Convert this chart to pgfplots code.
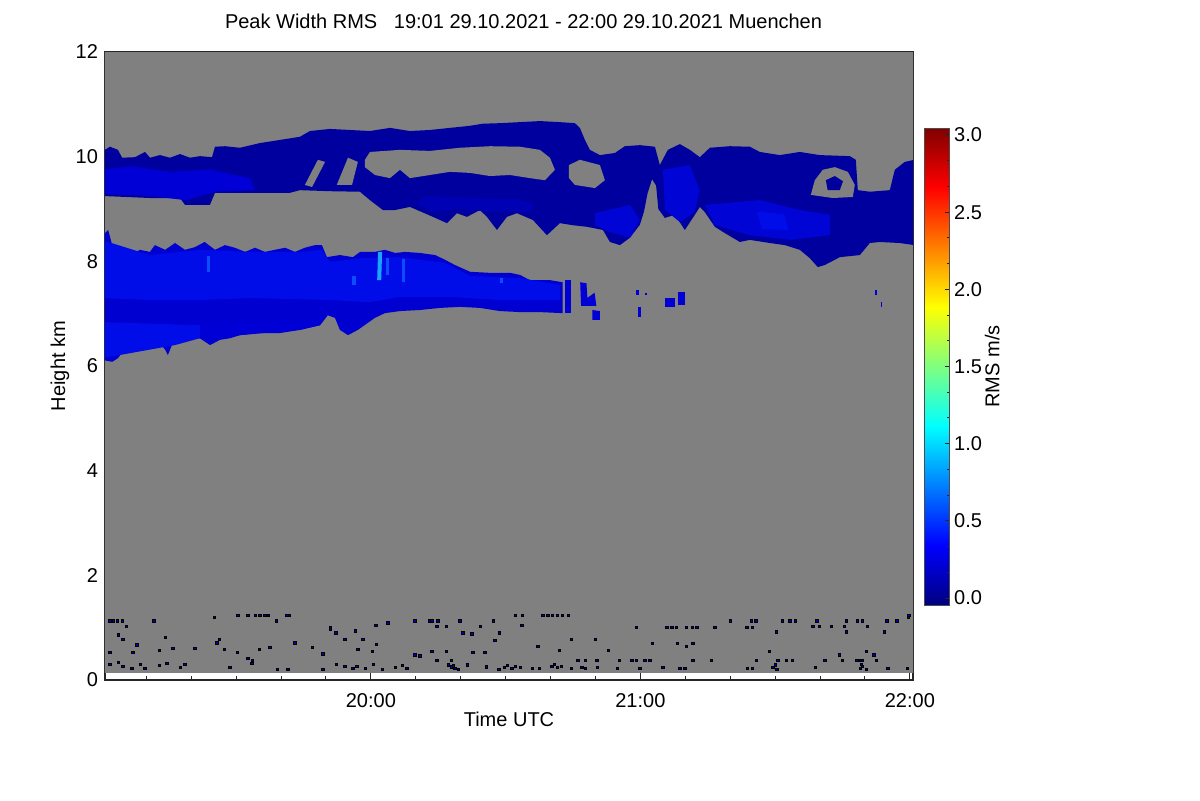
\documentclass[border=0pt]{standalone}
\usepackage{fontspec}
\setmainfont{Liberation Sans}
\usepackage{pgfplots}
\pgfplotsset{compat=1.18}
\definecolor{bggray}{RGB}{128,128,128}
\definecolor{cNavy}{rgb}{0,0,0.62}
\definecolor{cLow}{rgb}{0,0,0.82}
\definecolor{cMid}{rgb}{0,0,0.84}
\definecolor{cUp}{rgb}{0,0.02,0.84}
\definecolor{cBlue}{rgb}{0,0.05,0.91}
\definecolor{cBright}{rgb}{0.05,0.30,1}
\definecolor{cCyan}{rgb}{0.10,0.65,1}
\definecolor{cDot}{rgb}{0,0,0.68}
\begin{document}
\begin{tikzpicture}[font=\fontsize{10}{12}\selectfont]
\path[use as bounding box] (0,0) rectangle (600pt,400pt);
\begin{axis}[
  at={(52.5pt,60pt)}, anchor=south west,
  scale only axis, width=404pt, height=314pt,
  xmin=0.8, xmax=180.7, ymin=0, ymax=12,
  xtick={60,120,180}, xticklabels={20:00,21:00,22:00},
  minor xtick={10,20,...,170},
  ytick={0,2,4,6,8,10,12}, minor y tick num=3,
  tick align=inside,
  major tick length=3.5pt, minor tick length=2pt,
  every tick/.append style={black!85, line width=0.5pt},
  axis line style={black!85, line width=0.6pt},
  /pgf/number format/assume math mode=true,
  xlabel={Time UTC}, ylabel={Height km},
  xlabel style={at={(axis description cs:0.5,-0.0621)}, anchor=center},
  ylabel style={at={(axis description cs:-0.0557,0.5)}, anchor=center},
  xticklabel style={yshift=-3pt},
  title={Peak Width RMS\ \ \ 19:01 29.10.2021 - 22:00 29.10.2021 Muenchen},
  title style={at={(axis description cs:0.518,1)}, anchor=center, yshift=9.5pt},
  colormap/jet,
  point meta min=-0.045, point meta max=3.045,
  colorbar,
  colorbar style={
    at={(parent axis.south east)}, anchor=south west,
    xshift=-3pt, yshift=37.5pt,
    scale only axis, width=12.75pt, height=238.5pt,
    ytick={0,0.5,1,1.5,2,2.5,3},
    minor y tick num=2,
    tick align=inside,
    ytick pos=right,
    yticklabel pos=right,
    major tick length=2.5pt, minor tick length=1.5pt,
    yticklabel style={xshift=-1.2pt, /pgf/number format/.cd, fixed, fixed zerofill, precision=1, assume math mode=true},
    ylabel={RMS m/s},
    ylabel style={at={(axis description cs:2.675,0.5)}, anchor=center},
    axis line style={black!70, line width=0.4pt},
  },
]
% background (radar range from 0.13 km)
\addplot[fill=bggray, draw=none] coordinates {(0,0.13) (181,0.13) (181,12.2) (0,12.2)} -- cycle;

% ===== upper cloud layer =====
\addplot[fill=cNavy, draw=none] coordinates {
(0,10.09) (1.91,10.19) (3.70,10.13) (4.59,9.98) (7.48,9.99) (9.71,10.09) (10.82,9.98) (13.04,10.03) (15.27,9.98) (17.50,10.05) (19.72,9.98) (21.95,10.01) (24.62,9.99) (25.29,10.19) (27.51,10.20) (30.85,10.17) (35.30,10.26) (39.76,10.32) (44.21,10.38) (46.43,10.49) (50.88,10.53) (55.34,10.51) (59.79,10.49) (64.24,10.55) (68.69,10.49) (73.15,10.51) (77.60,10.55) (82.05,10.59) (84.94,10.63) (88.73,10.64) (93.18,10.66) (97.63,10.68) (102.08,10.66) (105.42,10.64) (106.53,10.55) (107.65,10.32) (108.76,10.13) (110.99,10.03) (114.33,10.07) (116.55,10.20) (119.89,10.22) (123.23,10.19) (124.34,9.84) (126.12,10.13) (128.79,10.24) (131.02,10.13) (133.24,9.99) (135.47,10.17) (139.92,10.20) (144.37,10.19) (146.60,10.09) (151.05,10.03) (155.50,10.09) (159.95,10.03) (166.63,10.01) (167.97,9.94) (168.41,9.36) (171.08,9.33) (175.54,9.36) (176.65,9.75) (178.88,9.90) (181,9.94)
(181,8.31) (177.77,8.35) (173.32,8.37) (171.08,8.35) (168.86,8.12) (164.41,8.08) (161.07,7.93) (159.51,7.89) (157.73,8.06) (155.50,8.22) (152.16,8.31) (148.82,8.35) (144.37,8.41) (142.15,8.37) (138.81,8.54) (136.58,8.66) (134.36,8.94) (133.24,9.04) (132.13,8.89) (129.90,8.60) (127.68,8.89) (125.45,8.83) (124.0,9.00) (123.5,9.45) (122.6,9.57) (121.6,9.30) (120.8,8.95) (119.89,8.70) (117.67,8.45) (115.44,8.31) (113.22,8.37) (111.66,8.60) (108.10,8.66) (104.98,8.69) (102.08,8.73) (99.19,8.50) (96.07,8.79) (92.51,8.92) (90.29,8.85) (88.06,8.60) (85.84,8.85) (84.28,8.98) (81.39,8.85) (79.16,8.92) (76.93,8.73) (73.82,8.85) (68.69,9.04) (65.35,8.98) (62.68,8.98) (59.79,9.17) (57.56,9.33) (50.88,9.34) (44.21,9.36) (41.98,9.31) (33.08,9.31) (25.29,9.31) (24.17,9.08) (18.61,9.08) (17.50,9.21) (10.82,9.21) (0,9.25)
} -- cycle;
% brighter parts of upper layer
\addplot[fill=cMid, draw=none] coordinates {(0,9.75) (6.4,9.82) (15.3,9.71) (24.2,9.75) (33.1,9.59) (34.2,9.36) (25.3,9.33) (18.6,9.17) (10.8,9.25) (0,9.29)} -- cycle;
\addplot[fill=cNavy!60!cMid, draw=none] coordinates {(70,9.1) (72,9.25) (85,9.2) (92,9.2) (96,9.1) (96,8.95) (90,8.95) (86,8.95) (80,9.0) (74,8.95)} -- cycle;
\addplot[fill=cUp, draw=none] coordinates {(109.9,8.92) (117.7,9.08) (119.9,8.79) (117.7,8.45) (113.2,8.56) (109.9,8.69)} -- cycle;
\addplot[fill=cUp, draw=none] coordinates {(125.0,9.75) (131.0,9.84) (133.2,9.36) (132.1,8.94) (128.8,8.75) (125.5,8.98)} -- cycle;
\addplot[fill=cUp, draw=none] coordinates {(134.4,9.08) (146.6,9.17) (155.5,8.98) (162.2,8.89) (162.2,8.50) (153.3,8.41) (144.4,8.50) (136.6,8.69)} -- cycle;
\addplot[fill=cBlue, draw=none] coordinates {(146,8.95) (152,8.9) (153,8.6) (147,8.62)} -- cycle;
% gaps inside upper layer
\addplot[fill=bggray, draw=none] coordinates {(58.67,9.94) (59.79,10.09) (66.47,10.13) (73.15,10.11) (79.83,10.17) (86.51,10.20) (93.18,10.19) (97.63,10.13) (99.86,9.98) (100.98,9.75) (98.75,9.55) (95.41,9.59) (90.96,9.65) (86.51,9.63) (82.05,9.69) (77.60,9.71) (73.15,9.65) (68.69,9.59) (66.47,9.75) (64.24,9.59) (60.90,9.65) (58.67,9.80)} -- cycle;
\addplot[fill=bggray, draw=none] coordinates {(104.10,9.84) (106.53,9.94) (110.99,9.84) (112.10,9.55) (109.88,9.40) (105.42,9.46) (104.10,9.59)} -- cycle;
\addplot[fill=bggray, draw=none] coordinates {(157.95,9.27) (158.84,9.55) (160.62,9.75) (163.29,9.80) (166.19,9.71) (167.75,9.46) (167.30,9.23) (162.85,9.21)} -- cycle;
\addplot[fill=cNavy, draw=none] coordinates {(161.3,9.55) (163.3,9.63) (165.1,9.53) (164.4,9.36) (161.7,9.36)} -- cycle;
\addplot[fill=bggray, draw=none] coordinates {(45.3,9.46) (48.2,9.94) (49.8,9.90) (46.9,9.42)} -- cycle;
\addplot[fill=bggray, draw=none] coordinates {(52.4,9.46) (54.9,9.98) (57.1,9.90) (55.8,9.46)} -- cycle;

% ===== lower cloud layer =====
\addplot[fill=cLow, draw=none] coordinates {
(0,8.47) (1.5,8.60) (2.4,8.31) (3.7,8.22) (5.3,8.26) (6.4,8.12) (8.6,8.22) (10.8,8.18) (11.9,8.31) (14.2,8.22) (16.4,8.35) (18.6,8.22) (20.8,8.27) (23.0,8.37) (25.3,8.22) (27.5,8.31) (29.7,8.26) (32.0,8.18) (34.2,8.26) (36.4,8.18) (38.6,8.22) (40.9,8.26) (43.1,8.18) (45.3,8.26) (47.6,8.31) (49.1,8.31) (50.2,8.08) (53.1,8.12) (56.0,8.08) (57.6,8.18) (60.9,8.18) (63.1,8.22) (65.4,8.16) (67.6,8.18) (70.9,8.16) (74.3,8.12) (76.5,8.03) (78.7,7.93) (82.1,7.80) (86.5,7.78) (91.0,7.78) (93.2,7.74) (95.4,7.64) (99.9,7.64) (102.7,7.60)
(102.7,7.01) (97.6,7.03) (93.2,7.03) (88.7,7.05) (84.3,7.11) (79.8,7.13) (75.4,7.11) (70.9,7.07) (66.5,7.05) (63.1,7.01) (60.9,6.92) (57.1,6.69) (54.9,6.59) (53.1,6.69) (52.0,6.92) (50.4,6.97) (48.7,6.78) (44.2,6.69) (39.8,6.63) (35.3,6.63) (30.9,6.59) (28.6,6.53) (26.4,6.50) (24.2,6.40) (21.9,6.53) (18.6,6.50) (15.7,6.40) (14.8,6.21) (14.2,6.31) (13.0,6.44) (9.7,6.40) (6.4,6.46) (5.3,6.34) (3.7,6.15) (2.4,6.08) (0,6.12)
} -- cycle;
\addplot[fill=cBlue, draw=none] coordinates {(0,8.41) (10.8,8.12) (21.9,8.22) (33.1,8.18) (44.2,8.18) (49.1,8.22) (50.9,7.99) (57.6,8.06) (66.5,8.08) (76.5,7.97) (82.1,7.72) (93.2,7.68) (102.1,7.55) (102.1,7.26) (88.7,7.26) (77.6,7.32) (66.5,7.32) (59.8,7.22) (50.9,7.26) (33.1,7.30) (21.9,7.26) (10.8,7.26) (0,7.30)} -- cycle;
\addplot[fill=cBlue, draw=none] coordinates {(0,6.84) (21.9,6.78) (21.9,6.53) (16.4,6.40) (4.1,6.21) (0,6.15)} -- cycle;
\addplot[fill=cMid, draw=none] coordinates {(21.9,6.85) (48,6.85) (48.7,6.78) (44.2,6.69) (30.9,6.59) (21.9,6.53)} -- cycle;
% bright streaks
\addplot[fill=cCyan, draw=none] coordinates {(61.6,8.18) (62.5,8.18) (62.3,7.64) (61.4,7.64)} -- cycle;
\addplot[fill=cBright, draw=none] coordinates {(63.4,8.06) (64.1,8.06) (64.1,7.74) (63.4,7.74)} -- cycle;
\addplot[fill=cBright, draw=none] coordinates {(23.5,8.1) (24.2,8.1) (24.2,7.8) (23.5,7.8)} -- cycle;
\addplot[fill=cBright, draw=none] coordinates {(55.9,7.72) (56.6,7.72) (56.6,7.55) (55.9,7.55)} -- cycle;
\addplot[fill=cBright, draw=none] coordinates {(67.0,8.05) (67.6,8.05) (67.6,7.6) (67.0,7.6)} -- cycle;
\addplot[fill=cBright, draw=none] coordinates {(88.8,7.68) (89.5,7.68) (89.5,7.58) (88.8,7.58)} -- cycle;
% isolated echoes
\addplot[fill=cMid, draw=none] coordinates {(103.2,7.64) (104.5,7.64) (104.5,7.01) (103.2,7.01)} -- cycle;
\addplot[fill=cMid, draw=none] coordinates {(106.6,7.60) (108.0,7.58) (108.2,7.30) (109.8,7.40) (110.2,7.15) (106.8,7.15)} -- cycle;
\addplot[fill=cMid, draw=none] coordinates {(109.3,7.07) (111.0,7.05) (111.0,6.88) (109.3,6.88)} -- cycle;
\addplot[fill=cMid, draw=none] coordinates {(119.0,7.45) (119.6,7.45) (119.6,7.35) (119.0,7.35)} -- cycle;
\addplot[fill=cMid, draw=none] coordinates {(119.5,7.12) (120.2,7.12) (120.2,6.94) (119.5,6.94)} -- cycle;
\addplot[fill=cMid, draw=none] coordinates {(125.5,7.30) (127.7,7.30) (127.7,7.12) (125.5,7.12)} -- cycle;
\addplot[fill=cMid, draw=none] coordinates {(128.4,7.42) (129.9,7.42) (129.9,7.17) (128.4,7.17)} -- cycle;
\addplot[fill=cMid, draw=none] coordinates {(121.0,7.40) (121.4,7.40) (121.4,7.36) (121.0,7.36)} -- cycle;
\addplot[fill=cMid, draw=none] coordinates {(172.2,7.45) (172.6,7.45) (172.6,7.36) (172.2,7.36)} -- cycle;
\addplot[fill=cMid, draw=none] coordinates {(173.5,7.22) (173.9,7.22) (173.9,7.13) (173.5,7.13)} -- cycle;

% ===== low-level clutter =====
\addplot[only marks, mark=square*, mark size=0.55pt, mark options={fill=cDot, draw=none}] coordinates {
(1.9,1.13) (2.6,1.13) (3.5,1.13) (4.6,1.13) (5.5,1.03) (11.7,1.13) (25.1,1.20) (30.4,1.23) (32.6,1.23) (34.2,1.23) (35.3,1.23) (36.4,1.23) (37.1,1.23) (38.9,1.13) (41.3,1.23) (41.8,1.23)
(3.7,0.86) (4.8,0.78) (14.2,0.82) (7.9,0.67) (1.9,0.53) (7.0,0.52) (13.0,0.57) (15.9,0.61) (20.8,0.61) (25.7,0.71) (26.2,0.78) (27.3,0.59) (30.2,0.52) (32.6,0.42) (33.7,0.38) (35.1,0.59) (37.5,0.63) (43.1,0.71) (46.9,0.63) (49.3,0.50)
(50.9,1.01) (50.9,0.97) (52.2,0.90) (54.2,0.78) (56.5,0.94) (58.2,0.78) (61.1,1.05) (61.3,0.68) (63.8,1.09) (60.3,0.55) (57.1,0.59)
(69.8,1.13) (73.1,1.13) (73.6,1.13) (74.9,1.13) (79.8,1.13) (87.2,1.13) (74.7,1.03) (76.9,1.03) (84.3,1.03) (80.5,0.90) (82.5,0.88) (87.6,0.75) (88.7,0.90)
(73.6,0.55) (76.9,0.54) (82.7,0.52) (85.4,0.52) (69.8,0.48) (70.9,0.46) (74.7,0.38) (78.0,0.38) (77.2,0.29) (78.0,0.25) (78.7,0.22) (79.4,0.21) (78.4,0.27) (81.4,0.29) (85.8,0.25) (88.5,0.21)
(1.9,0.30) (3.7,0.34) (4.8,0.26) (6.8,0.22) (8.6,0.30) (9.7,0.22) (13.0,0.28) (14.6,0.32) (17.5,0.24) (18.6,0.30) (28.6,0.24) (33.5,0.32) (39.1,0.21) (41.5,0.21) (49.3,0.21) (52.4,0.30) (54.2,0.26) (56.0,0.22) (56.9,0.26) (58.7,0.22) (60.5,0.30) (62.5,0.21) (65.4,0.24) (67.1,0.28) (68.0,0.22)
(92.1,1.23) (93.8,1.23) (98.3,1.23) (99.4,1.23) (100.5,1.23) (101.6,1.23) (102.7,1.23) (103.9,1.23) (93.6,1.05)
(119.2,1.01) (125.9,1.01) (127.0,1.01) (128.1,1.01) (130.3,1.01) (131.5,1.01) (132.6,1.01) (136.6,1.01) (143.7,1.01) (145.0,1.01)
(140.1,1.13) (144.8,1.13) (145.7,1.13) (151.7,1.13) (153.3,1.13) (154.6,1.13) (159.3,1.13) (165.9,1.13) (168.4,1.13) (169.5,1.13) (174.9,1.13) (177.1,1.13)
(158.4,1.02) (159.9,1.02) (162.6,1.02) (165.5,1.02) (170.6,1.02) (150.2,0.92) (165.8,0.92) (174.4,0.92) (179.8,1.23) (179.6,1.19)
(104.7,0.78) (109.9,0.78) (122.6,0.70) (128.3,0.70) (131.7,0.70) (97.2,0.64) (130.3,0.64) (101.9,0.57) (112.8,0.57) (148.8,0.54) (170.4,0.54) (164.4,0.48) (172.0,0.48)
(106.1,0.38) (107.7,0.38) (110.3,0.38) (115.4,0.38) (118.1,0.38) (119.2,0.38) (121.0,0.38) (122.1,0.38) (131.7,0.38) (135.9,0.38) (145.9,0.38) (150.6,0.38) (152.6,0.38) (153.9,0.38) (161.1,0.38) (164.9,0.38) (168.2,0.38) (168.9,0.38) (169.5,0.38) (172.6,0.38)
(89.8,0.24) (90.4,0.28) (91.4,0.22) (92.1,0.26) (93.2,0.24) (95.9,0.22) (97.6,0.22) (100.3,0.26) (100.9,0.30) (101.6,0.24) (102.5,0.26) (104.7,0.22) (107.0,0.24) (107.7,0.22) (110.5,0.24) (114.8,0.22) (119.9,0.22) (125.0,0.24) (128.8,0.22) (129.9,0.22) (143.9,0.22) (145.0,0.22) (149.5,0.24) (150.0,0.29) (150.4,0.20) (158.9,0.24) (168.9,0.22) (169.5,0.26) (170.4,0.20) (169.2,0.30) (175.1,0.22) (179.5,0.22)
};
\end{axis}
\end{tikzpicture}
\end{document}
